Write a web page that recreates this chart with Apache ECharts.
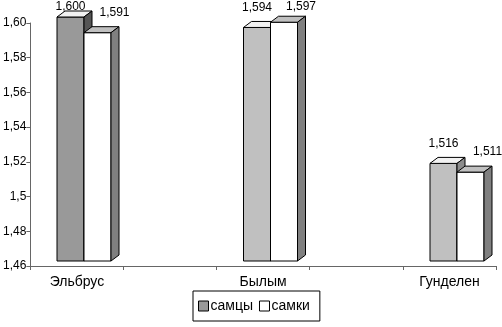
<!DOCTYPE html>
<html>
<head>
<meta charset="utf-8">
<script src="https://cdn.jsdelivr.net/npm/echarts@6/dist/echarts.min.js"></script>
<style>
html,body{margin:0;padding:0;background:#fff;}
#chart{width:502px;height:327px;}
</style>
</head>
<body>
<div id="chart"></div>
<script>
var categories = ['Эльбрус', 'Былым', 'Гунделен'];
var males = [1.600, 1.594, 1.516];     // самцы
var females = [1.591, 1.597, 1.511];   // самки
var seriesNames = ['самцы', 'самки'];
var yTickLabels = ['1,46', '1,48', '1,5', '1,52', '1,54', '1,56', '1,58', '1,60'];
var yMin = 1.46, yMax = 1.60, yStep = 0.02;

var FONT = '"Liberation Sans", Arial, sans-serif';
var BW = 27, DX = 8, DY = -6;

function fmt(v) { return v.toFixed(3).replace('.', ','); }

function makeRender(side, colors) {
  return function (params, api) {
    var idx = api.value(0), val = api.value(1);
    var top = api.coord([idx, val]);
    var bot = api.coord([idx, yMin]);
    var x = side === 0 ? top[0] - BW : top[0];
    var yT = top[1], yB = bot[1];
    var c = colors(idx);
    var st = { stroke: '#000', lineWidth: 1 };
    var lx = x + BW / 2 + (side === 0 ? 0 : 17);
    var ly = Math.max(yT - 20, 7);
    return {
      type: 'group',
      children: [
        { type: 'rect', shape: { x: x, y: yT, width: BW, height: yB - yT },
          style: Object.assign({ fill: c.front }, st) },
        { type: 'polygon', shape: { points: [[x, yT], [x + DX, yT + DY], [x + BW + DX, yT + DY], [x + BW, yT]] },
          style: Object.assign({ fill: c.top }, st) },
        { type: 'polygon', shape: { points: [[x + BW, yT], [x + BW + DX, yT + DY], [x + BW + DX, yB + DY], [x + BW, yB]] },
          style: Object.assign({ fill: c.side }, st) },
        { type: 'text', x: lx, y: ly,
          style: { text: fmt(val), fill: '#000', font: '12px ' + FONT, align: 'center', verticalAlign: 'middle' } }
      ]
    };
  };
}

var maleColors = function (i) {
  return i === 0 ? { front: '#999999', top: '#f2f2f2', side: '#555555' }
                 : { front: '#c0c0c0', top: '#f2f2f2', side: '#8c8c8c' };
};
var femaleColors = function () { return { front: '#ffffff', top: '#c0c0c0', side: '#808080' }; };

var slotLabels = [];
categories.forEach(function (c, i) { slotLabels.push(c); if (i < categories.length - 1) slotLabels.push(''); });

var chart = echarts.init(document.getElementById('chart'));
chart.setOption({
  animation: false,
  backgroundColor: '#fff',
  textStyle: { fontFamily: FONT },
  grid: [
    { left: 30, right: 6, top: 23, bottom: 61 },
    { left: 84, right: 45, top: 17, bottom: 66 }
  ],
  legend: {
    left: 193, top: 291,
    data: [
      { name: seriesNames[0], icon: 'rect', itemStyle: { color: '#999999', borderColor: '#000', borderWidth: 1 } },
      { name: seriesNames[1], icon: 'rect', itemStyle: { color: '#ffffff', borderColor: '#000', borderWidth: 1 } }
    ],
    itemWidth: 10, itemHeight: 10, itemGap: 6,
    borderColor: '#000', borderWidth: 1, padding: [8, 10, 8, 5],
    textStyle: { fontSize: 14, color: '#000', fontFamily: FONT, padding: [0, 0, 0, -3] }
  },
  xAxis: [
    { type: 'value', gridIndex: 0, min: 0, max: 5, interval: 1,
      axisLine: { show: true, lineStyle: { color: '#666' } },
      axisTick: { show: true, length: 4, lineStyle: { color: '#666' } },
      axisLabel: { show: false }, splitLine: { show: false } },
    { type: 'category', gridIndex: 0, data: slotLabels, position: 'bottom',
      axisLine: { show: false }, axisTick: { show: false },
      axisLabel: { show: true, interval: 0, margin: 9, fontSize: 14, color: '#000', fontFamily: FONT } },
    { type: 'category', gridIndex: 1, data: categories, boundaryGap: false, show: false }
  ],
  yAxis: [
    { type: 'value', gridIndex: 0, min: yMin, max: yMax, interval: yStep,
      axisLine: { show: true, lineStyle: { color: '#666' } },
      axisTick: { show: true, length: 4, lineStyle: { color: '#666' } },
      splitLine: { show: false },
      axisLabel: { margin: 4, fontSize: 12, color: '#000', fontFamily: FONT,
        formatter: function (v) { return yTickLabels[Math.round((v - yMin) / yStep)]; } } },
    { type: 'value', gridIndex: 1, min: yMin, max: yMax, show: false }
  ],
  series: [
    { name: seriesNames[0], type: 'custom', xAxisIndex: 2, yAxisIndex: 1,
      itemStyle: { color: '#999999' },
      data: males.map(function (v, i) { return [i, v]; }),
      renderItem: makeRender(0, maleColors) },
    { name: seriesNames[1], type: 'custom', xAxisIndex: 2, yAxisIndex: 1,
      itemStyle: { color: '#ffffff' },
      data: females.map(function (v, i) { return [i, v]; }),
      renderItem: makeRender(1, femaleColors) }
  ]
});
</script>
</body>
</html>
